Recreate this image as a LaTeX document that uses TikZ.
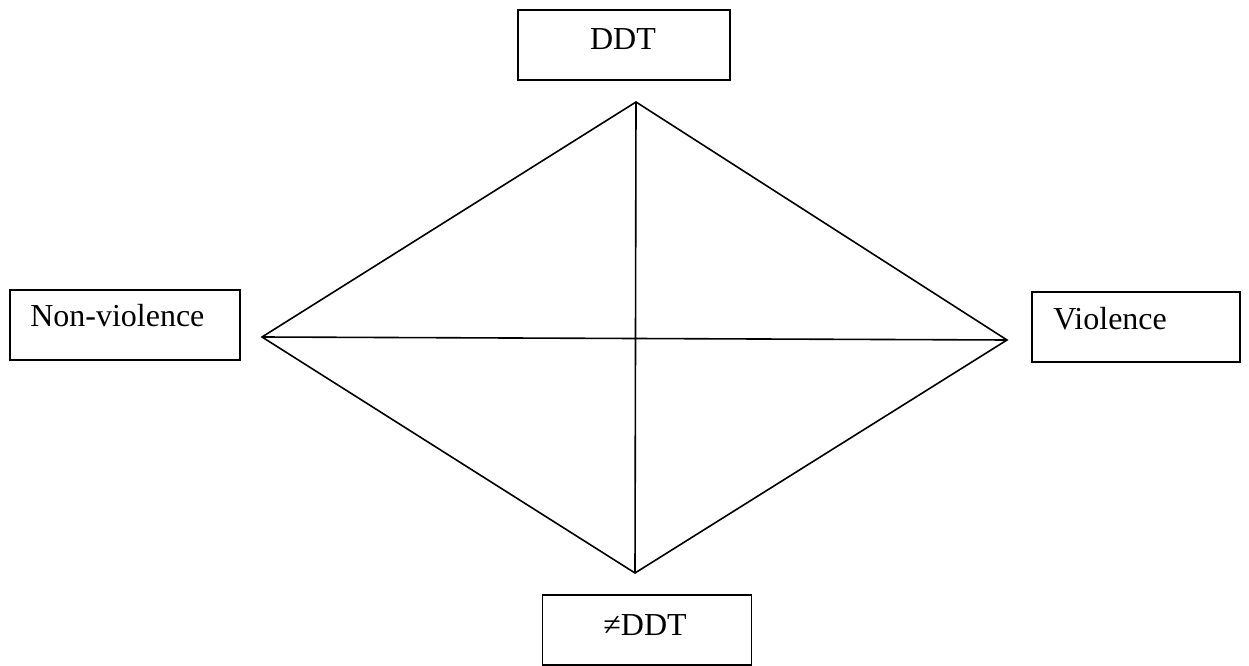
\documentclass[tikz,border=0pt]{standalone}
\usepackage{fontspec}
\setmainfont{Liberation Serif}
\begin{document}
\begin{tikzpicture}[x=0.75pt,y=-0.75pt,
  box/.style={draw,line width=1.3pt,inner sep=0pt,minimum height=52.5pt},
  lbl/.style={inner sep=0pt,font=\fontsize{24}{28}\selectfont},
  edge/.style={line width=1.2pt}]
\useasboundingbox (0,0) rectangle (1249,666);
% labelled boxes
\node[box,minimum width=158.6pt] (bddt) at (624,45) {};
\node[box,minimum width=172.5pt] (bnon) at (125,325) {};
\node[box,minimum width=156pt] (bvio) at (1136,327) {};
\node[box,minimum width=156.8pt] (bnot) at (647,630) {};
\node[lbl,anchor=base] (tddt) at (623,50) {DDT};
\node[lbl,anchor=base west] (tnon) at (30,327) {Non-violence};
\node[lbl,anchor=base west] (tvio) at (1053,330) {Violence};
\node[lbl,anchor=base] (tnot) at (645,635) {≠DDT};
% diamond corners
\coordinate (top) at (636,102);
\coordinate (bot) at (635,573);
\coordinate (lft) at (262,337);
\coordinate (rgt) at (1007,340);
\draw[edge] (top) -- (lft) -- (bot) -- (rgt) -- cycle;
\draw[edge] (top) -- (bot);
\draw[edge] (lft) -- (rgt);
\end{tikzpicture}
\end{document}
